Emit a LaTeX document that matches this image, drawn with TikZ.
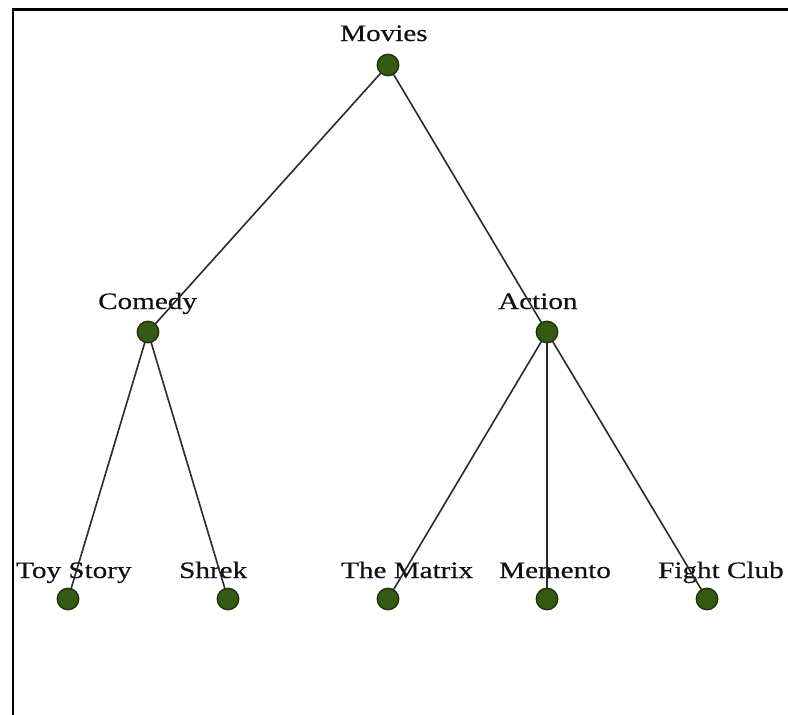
\documentclass[tikz,border=0pt]{standalone}
\usepackage{fontspec}
\setmainfont{Liberation Serif}
\newfontfamily\labelfont[FakeStretch=1.24,FakeBold=0.35]{Liberation Serif}
\definecolor{dotfill}{HTML}{345A12}
\definecolor{dotedge}{HTML}{1D3008}
\definecolor{edgegray}{HTML}{2A2A2A}
\definecolor{textgray}{HTML}{111111}
\tikzset{
  dot/.style={circle, fill=dotfill, draw=dotedge, line width=1.3pt, minimum size=21.5pt, inner sep=0pt},
  link/.style={draw=edgegray, line width=1.6pt},
  tag/.style={anchor=base west, inner sep=0pt, text=textgray, font=\labelfont\fontsize{23.5}{23.5}\selectfont},
  frame/.style={draw=black, line width=2.2pt}
}
\begin{document}
\begin{tikzpicture}[x=1pt, y=-1pt]
  \useasboundingbox[fill=white] (0,0) rectangle (788,715);
  % frame along the top and left edges
  \draw[frame] (13,716) -- (13,9.5) -- (789,9.5);

  % positions of the tree nodes
  \coordinate (movies) at (388,65);
  \coordinate (comedy) at (148,332);
  \coordinate (action) at (547,332);
  \coordinate (toystory) at (68,599);
  \coordinate (shrek) at (228,599);
  \coordinate (matrix) at (388,599);
  \coordinate (memento) at (547,599);
  \coordinate (fightclub) at (707,599);

  % labels, set from a fixed offset left of each node
  \node[tag] (tmovies) at ([shift={(-48,-24)}]movies) {Movies};
  \node[tag] (tcomedy) at ([shift={(-50,-23)}]comedy) {Comedy};
  \node[tag] (taction) at ([shift={(-49,-23)}]action) {Action};
  \node[tag] (ttoy) at ([shift={(-52,-21)}]toystory) {Toy Story};
  \node[tag] (tshrek) at ([shift={(-49,-21)}]shrek) {Shrek};
  \node[tag] (tmatrix) at ([shift={(-47,-21)}]matrix) {The Matrix};
  \node[tag] (tmemento) at ([shift={(-48,-21)}]memento) {Memento};
  \node[tag] (tfight) at ([shift={(-49,-21)}]fightclub) {Fight Club};

  % tree edges
  \draw[link] (movies) -- (comedy);
  \draw[link] (movies) -- (action);
  \draw[link] (comedy) -- (toystory);
  \draw[link] (comedy) -- (shrek);
  \draw[link] (action) -- (matrix);
  \draw[link] (action) -- (memento);
  \draw[link] (action) -- (fightclub);

  % node dots
  \foreach \n in {movies,comedy,action,toystory,shrek,matrix,memento,fightclub}
    \node[dot] (d\n) at (\n) {};
\end{tikzpicture}
\end{document}
